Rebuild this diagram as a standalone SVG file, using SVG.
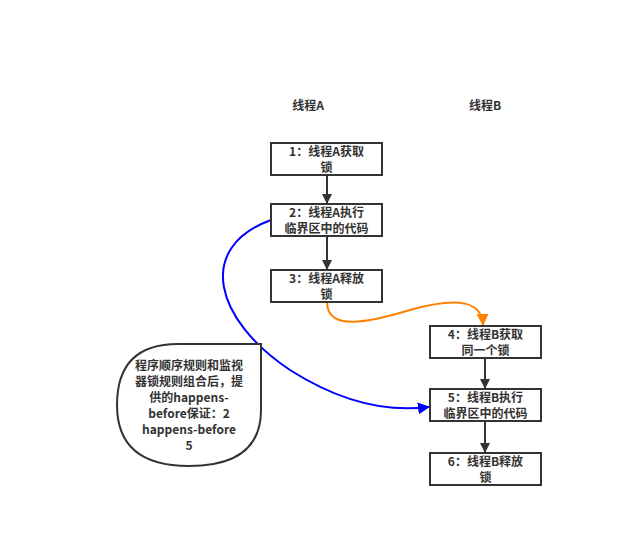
<svg xmlns="http://www.w3.org/2000/svg" width="627" height="547" viewBox="0 0 627 547">
<defs>
<style>
.box{fill:#fff;stroke:#333;stroke-width:2}
.t{font-family:"Noto Sans CJK SC","Liberation Sans",sans-serif;font-size:12px;font-weight:bold;fill:#333;text-anchor:middle}
.ln{fill:none;stroke:#333;stroke-width:2}
</style>
<marker id="ab" markerWidth="10" markerHeight="10" refX="9" refY="5" orient="auto" markerUnits="userSpaceOnUse"><path d="M0,0 L10,5 L0,10 Z" fill="#333"/></marker>
<marker id="ao" markerWidth="12" markerHeight="12" refX="11" refY="6" orient="auto" markerUnits="userSpaceOnUse"><path d="M0,0 L12,6 L0,12 Z" fill="#ff8000"/></marker>
<marker id="abl" markerWidth="12" markerHeight="12" refX="11" refY="6" orient="auto" markerUnits="userSpaceOnUse"><path d="M0,0 L12,6 L0,12 Z" fill="#0000ff"/></marker>
</defs>
<rect width="627" height="547" fill="#fff"/>
<text class="t" x="308" y="110">线程A</text>
<text class="t" x="485" y="110">线程B</text>
<g id="connectors">
<path class="ln" d="M327,175 L327,203" marker-end="url(#ab)"/>
<path class="ln" d="M327,236 L327,269" marker-end="url(#ab)"/>
<path class="ln" d="M485,358 L485,388" marker-end="url(#ab)"/>
<path class="ln" d="M485,421 L485,452" marker-end="url(#ab)"/>
<path d="M327,302 C327,332 370,322 410,310 C460,296 482,302 483,325" fill="none" stroke="#ff8000" stroke-width="2" marker-end="url(#ao)"/>
<path d="M271,220 C195,248 215,320 290,370 C345,405 390,412 429,407" fill="none" stroke="#0000ff" stroke-width="2" marker-end="url(#abl)"/>
</g>
<g id="n1"><rect class="box" x="271" y="143" width="111" height="32"/><text class="t" x="326.5" y="156">1：线程A获取</text><text class="t" x="326.5" y="172">锁</text></g>
<g id="n2"><rect class="box" x="271" y="204" width="111" height="32"/><text class="t" x="326.5" y="217">2：线程A执行</text><text class="t" x="326.5" y="233">临界区中的代码</text></g>
<g id="n3"><rect class="box" x="271" y="270" width="111" height="32"/><text class="t" x="326.5" y="283">3：线程A释放</text><text class="t" x="326.5" y="299">锁</text></g>
<g id="n4"><rect class="box" x="430" y="326" width="111" height="32"/><text class="t" x="485.5" y="339">4：线程B获取</text><text class="t" x="485.5" y="355">同一个锁</text></g>
<g id="n5"><rect class="box" x="430" y="389" width="111" height="32"/><text class="t" x="485.5" y="402">5：线程B执行</text><text class="t" x="485.5" y="418">临界区中的代码</text></g>
<g id="n6"><rect class="box" x="430" y="453" width="111" height="32"/><text class="t" x="485.5" y="466">6：线程B释放</text><text class="t" x="485.5" y="482">锁</text></g>
<g id="note">
<path class="box" d="M261,344 L261,410 Q261,466 189,466 Q117,466 117,405 Q117,344 178,344 Z"/>
<text class="t" x="189" y="370">程序顺序规则和监视</text>
<text class="t" x="189" y="386">器锁规则组合后，提</text>
<text class="t" x="189" y="402">供的happens-</text>
<text class="t" x="189" y="418">before保证：2</text>
<text class="t" x="189" y="434">happens-before</text>
<text class="t" x="189" y="450">5</text>
</g>
</svg>
